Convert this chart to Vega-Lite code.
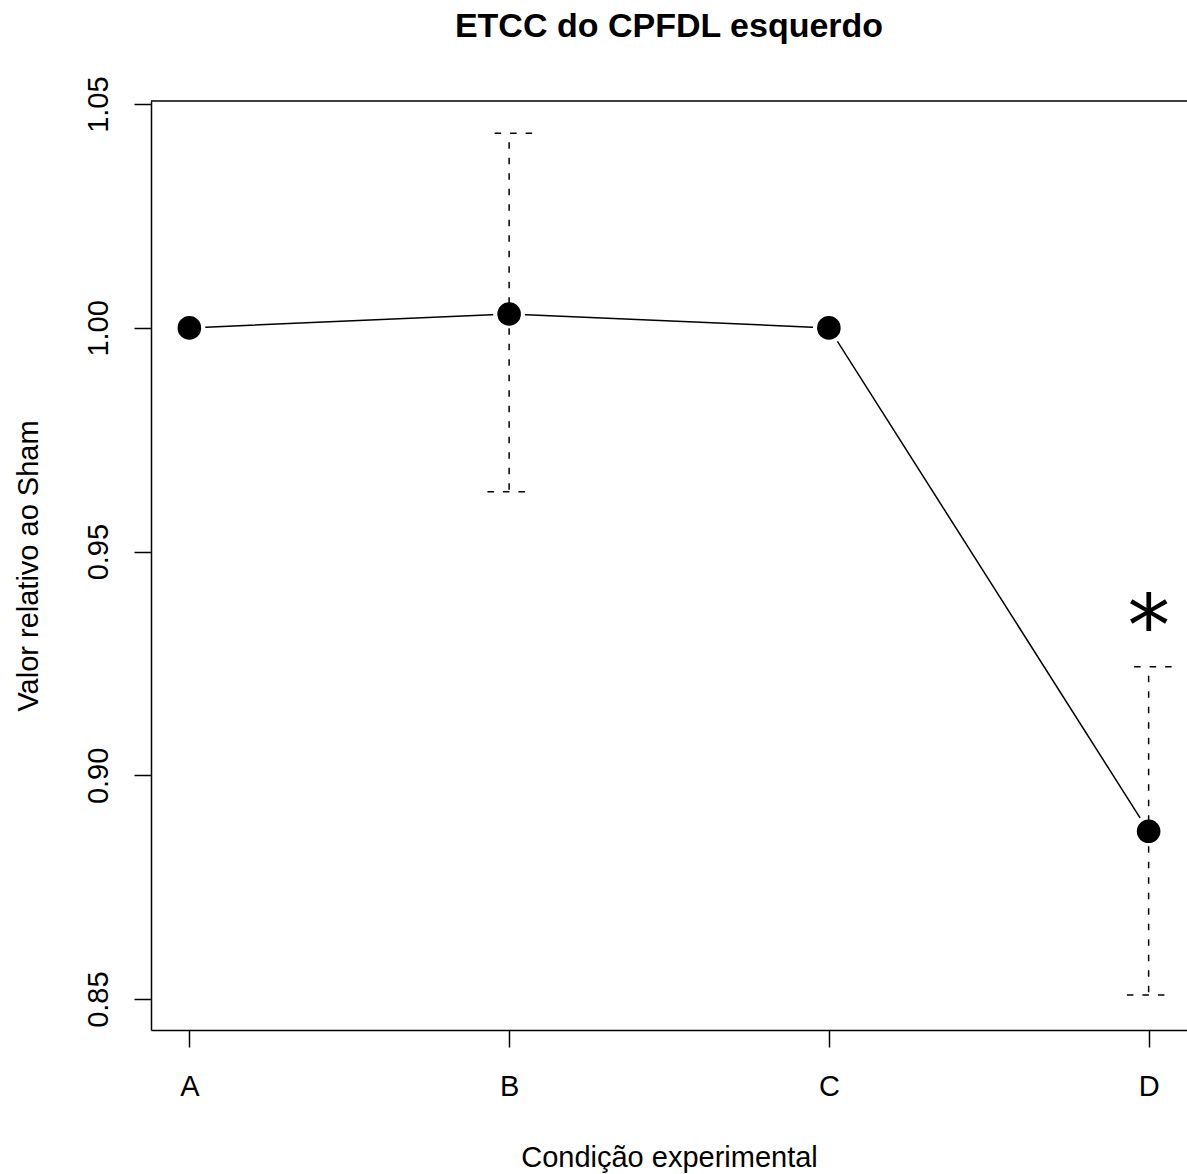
{
  "$schema": "https://vega.github.io/schema/vega-lite/v6.json",
  "width": 1036,
  "height": 929,
  "autosize": {"type": "none"},
  "padding": {"left": 151, "top": 101, "right": 0, "bottom": 144},
  "background": "white",
  "title": {
    "text": "ETCC do CPFDL esquerdo",
    "fontSize": 34,
    "fontWeight": "bold",
    "font": "Liberation Sans",
    "anchor": "middle",
    "frame": "group",
    "baseline": "alphabetic",
    "offset": 5,
    "color": "#000000"
  },
  "config": {
    "view": {"stroke": null},
    "axis": {
      "grid": false,
      "domainColor": "#000000",
      "domainWidth": 1.5,
      "tickColor": "#000000",
      "tickWidth": 1.5,
      "tickSize": 17,
      "labelFont": "Liberation Sans",
      "labelFontSize": 29,
      "labelColor": "#000000",
      "labelFlush": false,
      "labelOverlap": false,
      "titleFont": "Liberation Sans",
      "titleFontSize": 29,
      "titleFontWeight": "normal",
      "titleColor": "#000000"
    }
  },
  "datasets": {
    "conds": [
      {"cond": "A", "pos": 1, "mean": 1.0, "lo": null, "hi": null},
      {"cond": "B", "pos": 2, "mean": 1.0031, "lo": 0.9634, "hi": 1.0435},
      {"cond": "C", "pos": 3, "mean": 1.0, "lo": null, "hi": null},
      {"cond": "D", "pos": 4, "mean": 0.8875, "lo": 0.8509, "hi": 0.9243}
    ],
    "annot": [{"pos": 4, "y": 0.9325, "label": "*"}],
    "frame": [{"edge": "top"}]
  },
  "data": {"name": "conds"},
  "encoding": {
    "x": {
      "field": "pos",
      "type": "quantitative",
      "scale": {"domain": [0.88, 4.12], "nice": false, "zero": false},
      "axis": {
        "values": [1, 2, 3, 4],
        "labelExpr": "datum.value == 1 ? 'A' : datum.value == 2 ? 'B' : datum.value == 3 ? 'C' : 'D'",
        "labelBaseline": "alphabetic",
        "labelPadding": 48,
        "title": "Condição experimental",
        "titleBaseline": "alphabetic",
        "titleY": 136
      }
    }
  },
  "layer": [
    {
      "data": {"name": "frame"},
      "mark": {"type": "rule", "color": "#000000", "strokeWidth": 1.5},
      "encoding": {"x": null, "y": {"datum": 1.0507, "type": "quantitative"}}
    },
    {
      "mark": {"type": "line", "color": "#000000", "strokeWidth": 1.5},
      "encoding": {
        "y": {
          "field": "mean",
          "type": "quantitative",
          "scale": {"domain": [0.8431, 1.0507], "nice": false, "zero": false},
          "axis": {
            "values": [0.85, 0.9, 0.95, 1.0, 1.05],
            "format": ".2f",
            "labelAngle": -90,
            "labelAlign": "center",
            "labelBaseline": "alphabetic",
            "labelPadding": 27,
            "title": "Valor relativo ao Sham",
            "titleAngle": -90,
            "titleAlign": "center",
            "titleBaseline": "alphabetic",
            "titleX": -114,
            "titleY": 464.5
          }
        }
      }
    },
    {
      "mark": {"type": "point", "filled": true, "color": "#ffffff", "opacity": 1, "size": 1018},
      "encoding": {"y": {"field": "mean", "type": "quantitative"}}
    },
    {
      "transform": [{"filter": "isValid(datum.lo)"}],
      "mark": {"type": "rule", "color": "#000000", "strokeWidth": 1.5, "strokeDash": [6.5, 9], "strokeDashOffset": 6.5},
      "encoding": {
        "y": {"field": "hi", "type": "quantitative"},
        "y2": {"field": "lo"}
      }
    },
    {
      "transform": [{"filter": "isValid(datum.lo)"}],
      "mark": {"type": "point", "shape": "M-1,0L1,0", "filled": false, "color": "#000000", "opacity": 1, "strokeWidth": 1.5, "size": 2209, "strokeDash": [6.5, 9], "strokeDashOffset": 6.5},
      "encoding": {"y": {"field": "hi", "type": "quantitative"}}
    },
    {
      "transform": [{"filter": "isValid(datum.lo)"}],
      "mark": {"type": "point", "shape": "M-1,0L1,0", "filled": false, "color": "#000000", "opacity": 1, "strokeWidth": 1.5, "size": 2209, "strokeDash": [6.5, 9], "strokeDashOffset": 13.7},
      "encoding": {"y": {"field": "lo", "type": "quantitative"}}
    },
    {
      "mark": {"type": "point", "filled": true, "color": "#000000", "opacity": 1, "size": 556},
      "encoding": {"y": {"field": "mean", "type": "quantitative"}}
    },
    {
      "data": {"name": "annot"},
      "mark": {"type": "text", "font": "DejaVu Sans", "fontSize": 85, "color": "#000000", "align": "center", "baseline": "middle"},
      "encoding": {
        "y": {"field": "y", "type": "quantitative"},
        "text": {"field": "label"}
      }
    }
  ]
}
